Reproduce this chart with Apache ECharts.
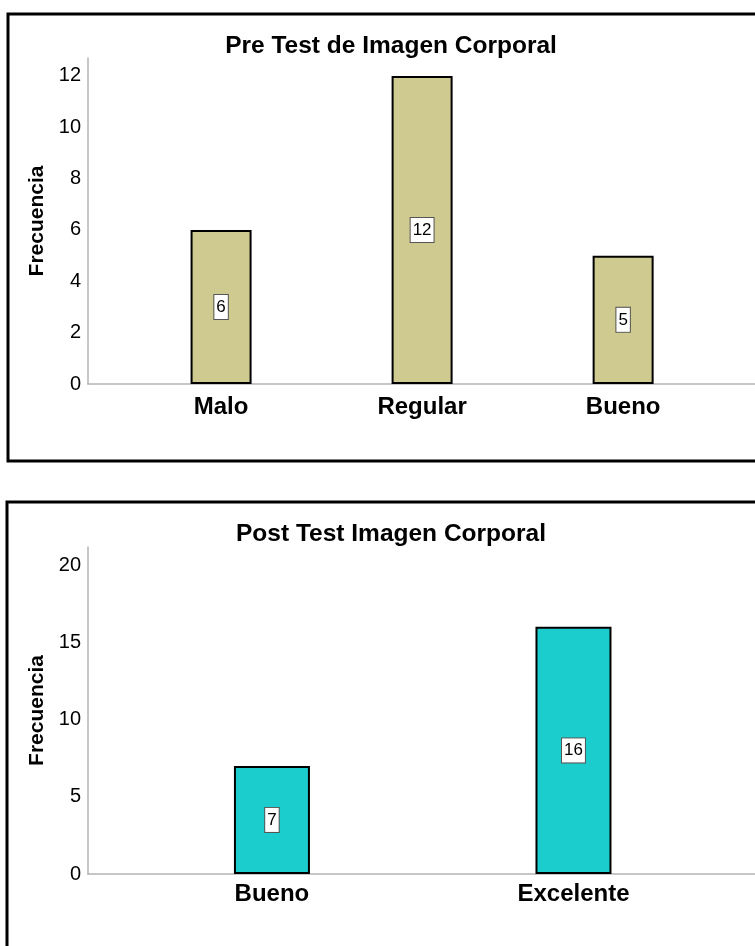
<!DOCTYPE html>
<html>
<head>
<meta charset="utf-8">
<script src="https://cdn.jsdelivr.net/npm/echarts@6/dist/echarts.min.js"></script>
<style>
  html, body { margin: 0; padding: 0; background: #fff; }
  #chart { width: 755px; height: 946px; }
</style>
</head>
<body>
<div id="chart"></div>
<script>
// Pre test
const preTitle = 'Pre Test de Imagen Corporal';
const preCategories = ['Malo', 'Regular', 'Bueno'];
const preValues = [6, 12, 5];
const preTickStep = 2;

// Post test
const postTitle = 'Post Test Imagen Corporal';
const postCategories = ['Bueno', 'Excelente'];
const postValues = [7, 16];
const postTickStep = 5;

const yName = 'Frecuencia';
const FONT = "'Liberation Sans', Arial, sans-serif";

const chart = echarts.init(document.getElementById('chart'));

function yAxisFor(gridIndex, max, step) {
  return {
    type: 'value', gridIndex: gridIndex, min: 0, max: max, interval: step,
    name: yName, nameLocation: 'middle', nameGap: 34,
    nameTextStyle: { fontFamily: FONT, fontWeight: 'bold', fontSize: 21, color: '#000' },
    axisLine: { show: true, onZero: false, lineStyle: { color: '#b4b4b4', width: 1.5 } },
    axisTick: { show: false },
    splitLine: { show: false },
    axisLabel: {
      fontFamily: FONT, fontSize: 20, color: '#000', margin: 7,
      formatter: v => (Math.abs(v / step - Math.round(v / step)) < 1e-6 ? String(Math.round(v)) : '')
    }
  };
}

function xAxisFor(gridIndex, cats, min, max, margin) {
  return {
    type: 'value', gridIndex: gridIndex, min: min, max: max,
    axisLine: { show: true, onZero: false, lineStyle: { color: '#b4b4b4', width: 1.5 } },
    axisTick: { show: false },
    splitLine: { show: false },
    axisLabel: {
      customValues: cats.map((c, i) => i),
      fontFamily: FONT, fontWeight: 'bold', fontSize: 24, color: '#000', margin: margin,
      formatter: v => cats[Math.round(v)] || ''
    }
  };
}

function barSeries(idx, values, color, width) {
  return {
    type: 'bar', xAxisIndex: idx, yAxisIndex: idx,
    data: values.map((v, i) => [i, v]),
    barWidth: width,
    itemStyle: { color: color, borderColor: '#000', borderWidth: 2 },
    label: {
      show: true, position: 'inside',
      formatter: p => String(p.value[1]),
      fontFamily: FONT, fontSize: 17, color: '#000',
      backgroundColor: '#fff', borderColor: '#555', borderWidth: 1,
      padding: [4, 2, 3, 2]
    }
  };
}

chart.setOption({
  animation: false,
  backgroundColor: '#fff',
  title: [
    { text: preTitle, left: 386, top: 29, textAlign: 'center',
      textStyle: { fontFamily: FONT, fontWeight: 'bold', fontSize: 24.5, color: '#000' } },
    { text: postTitle, left: 386, top: 517, textAlign: 'center',
      textStyle: { fontFamily: FONT, fontWeight: 'bold', fontSize: 24.5, color: '#000' } }
  ],
  graphic: [
    { type: 'rect', shape: { x: 8, y: 14, width: 780, height: 447 },
      style: { fill: 'none', stroke: '#000', lineWidth: 3 }, silent: true },
    { type: 'rect', shape: { x: 7, y: 502, width: 780, height: 500 },
      style: { fill: 'none', stroke: '#000', lineWidth: 3 }, silent: true }
  ],
  grid: [
    { left: 88, top: 58, width: 667, height: 326 },
    { left: 88, top: 547, width: 667, height: 327 }
  ],
  xAxis: [
    xAxisFor(0, preCategories, -0.662, 2.656, 11),
    xAxisFor(1, postCategories, -0.61, 1.602, 8)
  ],
  yAxis: [
    yAxisFor(0, 12.7, preTickStep),
    yAxisFor(1, 21.17, postTickStep)
  ],
  series: [
    barSeries(0, preValues, '#cfca8f', 61),
    barSeries(1, postValues, '#1ccdcd', 76)
  ]
});
</script>
</body>
</html>
